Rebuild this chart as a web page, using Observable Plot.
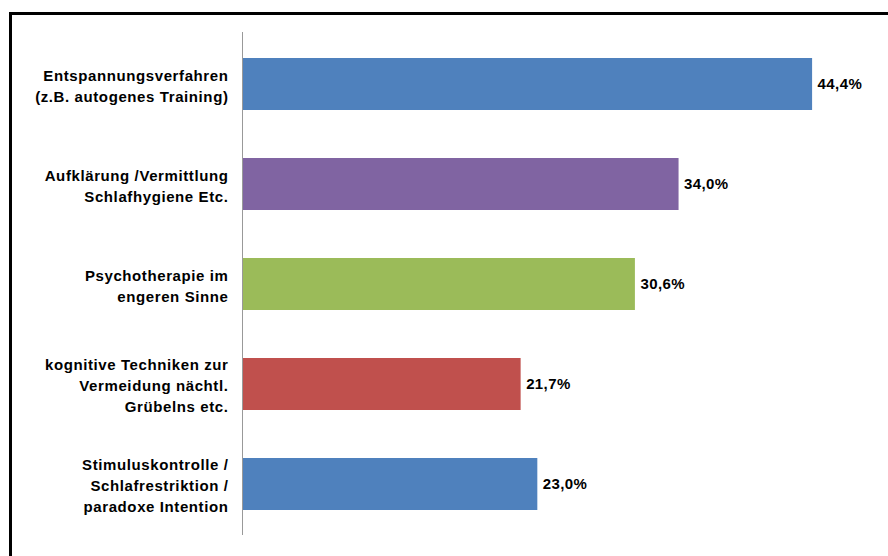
<!DOCTYPE html>
<html><head><meta charset="utf-8">
<script src="https://cdn.jsdelivr.net/npm/d3@7"></script>
<script src="https://cdn.jsdelivr.net/npm/@observablehq/plot@0.6"></script>
<style>
body{margin:0;background:#fff;}
#wrap{position:relative;width:888px;height:556px;overflow:hidden;}
#frame{position:absolute;left:9px;top:12px;width:900px;height:600px;border-left:3px solid #000;border-top:3px solid #000;box-sizing:border-box;pointer-events:none;}
</style></head>
<body><div id="wrap"><div id="frame"></div></div>
<script>
const categories = [
  "Entspannungsverfahren\n(z.B. autogenes Training)",
  "Aufklärung /Vermittlung\nSchlafhygiene Etc.",
  "Psychotherapie im\nengeren Sinne",
  "kognitive Techniken zur\nVermeidung nächtl.\nGrübelns etc.",
  "Stimuluskontrolle /\nSchlafrestriktion /\nparadoxe Intention"
];
const values = [44.4, 34.0, 30.6, 21.7, 23.0];
const colors = ["#4F81BD", "#8064A2", "#9BBB59", "#C0504D", "#4F81BD"];

const data = categories.map((c, i) => ({cat: c, value: values[i], color: colors[i]}));
const fmt = v => v.toFixed(1).replace(".", ",") + "%";

const chart = Plot.plot({
  width: 888,
  height: 556,
  marginLeft: 242,
  marginRight: 4,
  marginTop: 32,
  marginBottom: 21,
  style: {fontFamily: "'Liberation Sans', Arial, sans-serif", background: "transparent"},
  x: {domain: [0, 50], axis: null},
  y: {domain: categories, paddingInner: 0.483, paddingOuter: 0.2415, axis: null},
  marks: [
    Plot.barX(data, {y: "cat", x: "value", fill: "color"}),
    Plot.ruleX([0], {stroke: "#999", strokeWidth: 1}),
    Plot.text(data, {y: "cat", x: 0, text: "cat", dx: -14, textAnchor: "end", lineHeight: 1.4, fontSize: 15, fontWeight: "bold", fill: "#000"}),
    Plot.text(data, {y: "cat", x: "value", text: d => fmt(d.value), dx: 5, textAnchor: "start", fontSize: 15, fontWeight: "bold", fill: "#000"})
  ]
});
const textGroups = chart.querySelectorAll('g[aria-label="text"]');
if (textGroups[0]) textGroups[0].style.letterSpacing = "0.6px";
if (textGroups[1]) textGroups[1].style.letterSpacing = "0.4px";
chart.style.position = "absolute";
chart.style.left = "0";
chart.style.top = "0";
document.getElementById("wrap").prepend(chart);
</script>
</body></html>
